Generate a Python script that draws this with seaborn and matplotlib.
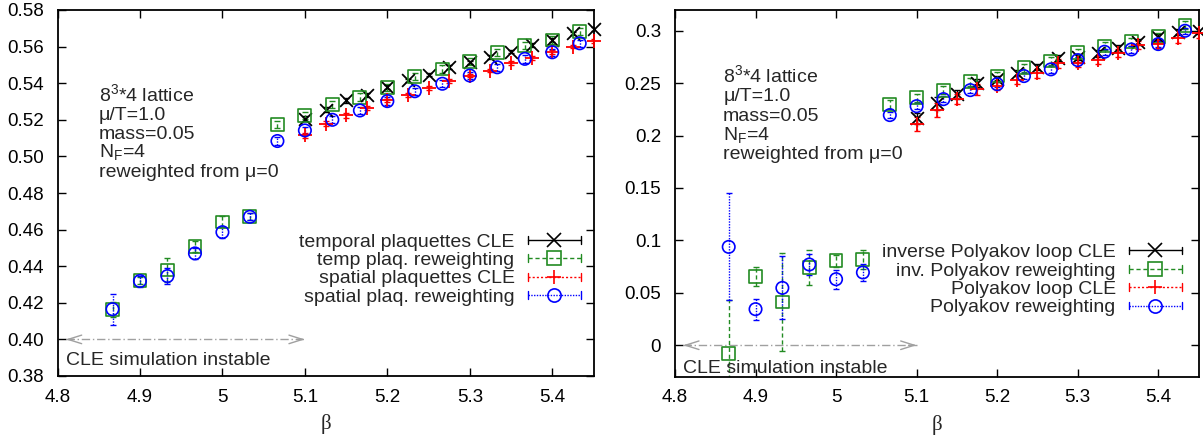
import numpy as np
import matplotlib
matplotlib.use("Agg")
import matplotlib.pyplot as plt
import seaborn as sns
from matplotlib.lines import Line2D
from matplotlib.legend_handler import HandlerBase
from matplotlib.ticker import FuncFormatter, MultipleLocator

# ---------------- data ----------------
beta_cle = [5.1, 5.125, 5.15, 5.175, 5.2, 5.225, 5.25, 5.275, 5.3, 5.325,
            5.35, 5.375, 5.4, 5.425, 5.45]
beta_rw = [4.8667, 4.9, 4.9333, 4.9667, 5.0, 5.0333, 5.0667, 5.1, 5.1333,
           5.1667, 5.2, 5.2333, 5.2667, 5.3, 5.3333, 5.3667, 5.4, 5.4333]

# left panel: plaquettes
temporal_cle = [0.5206, 0.5255, 0.5306, 0.5336, 0.5378, 0.5415, 0.5447, 0.5487,
                0.5514, 0.5542, 0.5573, 0.5609, 0.5636, 0.5672, 0.5696]
temporal_cle_err = [0.0015, 0.0015, 0.0012, 0.0012, 0.001, 0.001, 0.001, 0.001,
                    0.001, 0.001, 0.001, 0.001, 0.001, 0.001, 0.001]
temp_rw = [0.4162, 0.4321, 0.4379, 0.4506, 0.4642, 0.4673, 0.5175, 0.5224,
           0.5282, 0.5324, 0.5378, 0.5436, 0.5478, 0.5518, 0.5569, 0.5605,
           0.5636, 0.5682]
temp_rw_err = [0.004, 0.002, 0.0065, 0.003, 0.003, 0.002, 0.002, 0.002, 0.002,
               0.002, 0.002, 0.002, 0.002, 0.002, 0.002, 0.002, 0.002, 0.002]
spatial_cle = [0.5115, 0.5179, 0.5224, 0.5266, 0.5306, 0.5336, 0.5375, 0.5411,
               0.5442, 0.5469, 0.5509, 0.5538, 0.5569, 0.5600, 0.5629]
spatial_cle_err = [0.0015, 0.0015, 0.0012, 0.0012, 0.001, 0.001, 0.001, 0.001,
                   0.001, 0.001, 0.001, 0.001, 0.001, 0.001, 0.001]
spat_rw = [0.4165, 0.4319, 0.4346, 0.4470, 0.4586, 0.4670, 0.5084, 0.5142,
           0.5200, 0.5251, 0.5302, 0.5356, 0.5397, 0.5442, 0.5487, 0.5533,
           0.5569, 0.5618]
spat_rw_err = [0.0085, 0.003, 0.0045, 0.003, 0.003, 0.002, 0.002, 0.002, 0.002,
               0.002, 0.002, 0.002, 0.002, 0.002, 0.002, 0.002, 0.002, 0.002]

# right panel: Polyakov loops
invpol_cle = [0.2163, 0.2306, 0.2392, 0.2503, 0.2538, 0.2598, 0.2656, 0.2736,
              0.2751, 0.2783, 0.2831, 0.2894, 0.2942, 0.2984, 0.2999]
invpol_cle_err = [0.005, 0.006, 0.004, 0.004, 0.003, 0.003, 0.003, 0.003,
                  0.003, 0.003, 0.003, 0.003, 0.003, 0.003, 0.003]
invpol_rw = [-0.008, 0.0652, 0.0413, 0.0741, 0.0805, 0.0818, 0.2297, 0.2360,
             0.2433, 0.2512, 0.2567, 0.2646, 0.2710, 0.2789, 0.2853, 0.2894,
             0.2942, 0.3053]
invpol_rw_err = [0.051, 0.009, 0.047, 0.017, 0.006, 0.009, 0.004, 0.004, 0.004,
                 0.004, 0.004, 0.004, 0.004, 0.004, 0.004, 0.004, 0.004, 0.004]
pol_cle = [0.2109, 0.2242, 0.2347, 0.2440, 0.2471, 0.2529, 0.2593, 0.2688,
           0.2694, 0.2719, 0.2789, 0.2863, 0.2875, 0.2926, 0.2974]
pol_cle_err = [0.0065, 0.007, 0.005, 0.005, 0.004, 0.004, 0.004, 0.004,
               0.004, 0.004, 0.004, 0.004, 0.004, 0.004, 0.004]
pol_rw = [0.0938, 0.0344, 0.0547, 0.0770, 0.0630, 0.0694, 0.2195, 0.2280,
          0.2347, 0.2433, 0.2490, 0.2567, 0.2631, 0.2719, 0.2799, 0.2821,
          0.2872, 0.2999]
pol_rw_err = [0.051, 0.01, 0.03, 0.01, 0.009, 0.008, 0.003, 0.003, 0.003,
              0.003, 0.003, 0.003, 0.003, 0.003, 0.003, 0.003, 0.003, 0.003]

left_labels = ["temporal plaquettes CLE", "temp plaq. reweighting",
               "spatial plaquettes CLE", "spatial plaq. reweighting"]
right_labels = ["inverse Polyakov loop CLE", "inv. Polyakov reweighting",
                "Polyakov loop CLE", "Polyakov reweighting"]
info_lines = ["$\\mathregular{8^3}$*4 lattice", "\u03bc/T=1.0", "mass=0.05",
              "$\\mathregular{N_F}$=4", "reweighted from \u03bc=0"]
note_text = "CLE simulation instable"

# ---------------- style ----------------
sns.set_theme(style="ticks")
plt.rcParams.update({
    "font.family": ["Liberation Sans", "DejaVu Sans"],
    "font.size": 14,
    "mathtext.default": "regular",
    "axes.linewidth": 1.3,
    "axes.edgecolor": "black",
    "xtick.direction": "in", "ytick.direction": "in",
    "xtick.top": True, "ytick.right": True,
    "xtick.major.size": 6, "ytick.major.size": 6,
    "xtick.major.width": 1.0, "ytick.major.width": 1.0,
    "xtick.color": "black", "ytick.color": "black",
    "xtick.labelsize": 13.5, "ytick.labelsize": 13.5,
    "xtick.major.pad": 9, "ytick.major.pad": 10,
})

BLACK = "black"
GREEN = "#228B22"
RED = "#ff0000"
BLUE = "#0000ff"
GREY = "#a0a0a0"
FS = 14


class Key:
    def __init__(self, color, marker, ls, ms):
        self.color, self.marker, self.ls, self.ms = color, marker, ls, ms


class KeyHandler(HandlerBase):
    def create_artists(self, legend, h, xdescent, ydescent, width, height,
                       fontsize, trans):
        x0 = -xdescent
        x1 = x0 + width
        yc = -ydescent + height / 2
        cap = 0.2 * fontsize
        arts = [
            Line2D([x0, x1], [yc, yc], color=h.color, ls=h.ls, lw=1.0),
            Line2D([x0, x0], [yc - cap, yc + cap], color=h.color, lw=1.0),
            Line2D([x1, x1], [yc - cap, yc + cap], color=h.color, lw=1.0),
            Line2D([(x0 + x1) / 2], [yc], marker=h.marker, ms=h.ms,
                   mfc="none", mec=h.color, mew=1.2, ls="none"),
        ]
        for a in arts:
            a.set_transform(trans)
        return arts


fig = plt.figure(figsize=(12.03, 4.42), dpi=100)
axL = fig.add_axes([57.5 / 1203, 1 - 376 / 442, 536 / 1203, 366 / 442])
axR = fig.add_axes([675 / 1203, 1 - 376.7 / 442, 523.5 / 1203, 367 / 442])

DASH = (0, (3, 2))
DOT = (0, (1.5, 1.5))
FINE = (0, (1, 1))


def draw_series(ax, x, y, err, color, marker, ls, size):
    eb = ax.errorbar(x, y, yerr=err, fmt="none", ecolor=color, elinewidth=1.0,
                     capsize=2.5, capthick=1.0, zorder=2)
    eb[2][0].set_linestyle(ls)
    if marker in ("x", "+"):
        sns.scatterplot(x=x, y=y, ax=ax, marker=marker, color=color, s=size,
                        linewidth=1.3, legend=False, zorder=3, clip_on=False)
    else:
        sns.scatterplot(x=x, y=y, ax=ax, marker=marker, facecolor="none",
                        edgecolor=color, s=size, linewidth=1.2, legend=False,
                        zorder=3, clip_on=False)


def panel(ax, series, labels, ylim, ystep, yfmt, leg_anchor, info_x, info_y,
          arrow_y, note_y):
    keys = []
    for (x, y, err, color, marker, ls, size, ms) in series:
        draw_series(ax, x, y, err, color, marker, ls, size)
        keys.append(Key(color, marker, ls, ms))
    ax.set_xlim(4.8, 5.45)
    ax.set_ylim(*ylim)
    ax.xaxis.set_major_locator(MultipleLocator(0.1))
    ax.yaxis.set_major_locator(MultipleLocator(ystep))
    ax.xaxis.set_major_formatter(FuncFormatter(lambda v, p: f"{v:g}"))
    ax.yaxis.set_major_formatter(FuncFormatter(yfmt))
    ax.set_xlabel("\u03b2", fontfamily="Liberation Serif", fontsize=15,
                  labelpad=6)
    ax.set_ylabel("")
    for s in ax.spines.values():
        s.set_visible(True)
        s.set_linewidth(1.3)
    ax.legend(keys, labels, handler_map={Key: KeyHandler()},
              loc="center right", bbox_to_anchor=leg_anchor,
              frameon=False, markerfirst=False, handlelength=2.7,
              handletextpad=0.7, labelspacing=0.04, borderpad=0,
              borderaxespad=0, fontsize=FS)
    for i, line in enumerate(info_lines):
        ax.text(info_x, info_y[i], line, transform=ax.transAxes,
                ha="left", va="baseline", fontsize=FS)
    # instability arrow
    ax.plot([4.81, 5.1], [arrow_y, arrow_y], color=GREY, lw=1.0,
            ls=(0, (6, 2, 1, 2)), zorder=1)
    for tip, tail in ((5.1, 5.09), (4.81, 4.82)):
        ax.annotate("", xy=(tip, arrow_y), xytext=(tail, arrow_y),
                    arrowprops=dict(arrowstyle="->,head_length=0.7,head_width=0.22",
                                    color=GREY, lw=1.0, shrinkA=0, shrinkB=0))
    ax.text(4.81, note_y, note_text, ha="left", va="baseline", fontsize=FS)


left_series = [
    (beta_cle, temporal_cle, temporal_cle_err, BLACK, "x", "-", 85, 9.5),
    (beta_rw, temp_rw, temp_rw_err, GREEN, "s", DASH, 85, 9.5),
    (beta_cle, spatial_cle, spatial_cle_err, RED, "+", DOT, 95, 10),
    (beta_rw, spat_rw, spat_rw_err, BLUE, "o", FINE, 80, 9.5),
]
right_series = [
    (beta_cle, invpol_cle, invpol_cle_err, BLACK, "x", "-", 85, 9.5),
    (beta_rw, invpol_rw, invpol_rw_err, GREEN, "s", DASH, 85, 9.5),
    (beta_cle, pol_cle, pol_cle_err, RED, "+", DOT, 95, 10),
    (beta_rw, pol_rw, pol_rw_err, BLUE, "o", FINE, 80, 9.5),
]

panel(axL, left_series, left_labels, (0.38, 0.58), 0.02,
      lambda v, p: f"{v:.2f}", (0.976, 0.291), 0.0765,
      [0.7514, 0.6995, 0.6475, 0.5970, 0.5429], 0.4, 0.386)
panel(axR, right_series, right_labels, (-0.03, 0.32), 0.05,
      lambda v, p: f"{v:g}" if abs(v) > 1e-9 else "0", (0.968, 0.2635), 0.092,
      [0.803, 0.751, 0.698, 0.646, 0.594], 0.0, -0.026)

fig.savefig("out.png", dpi=100)
